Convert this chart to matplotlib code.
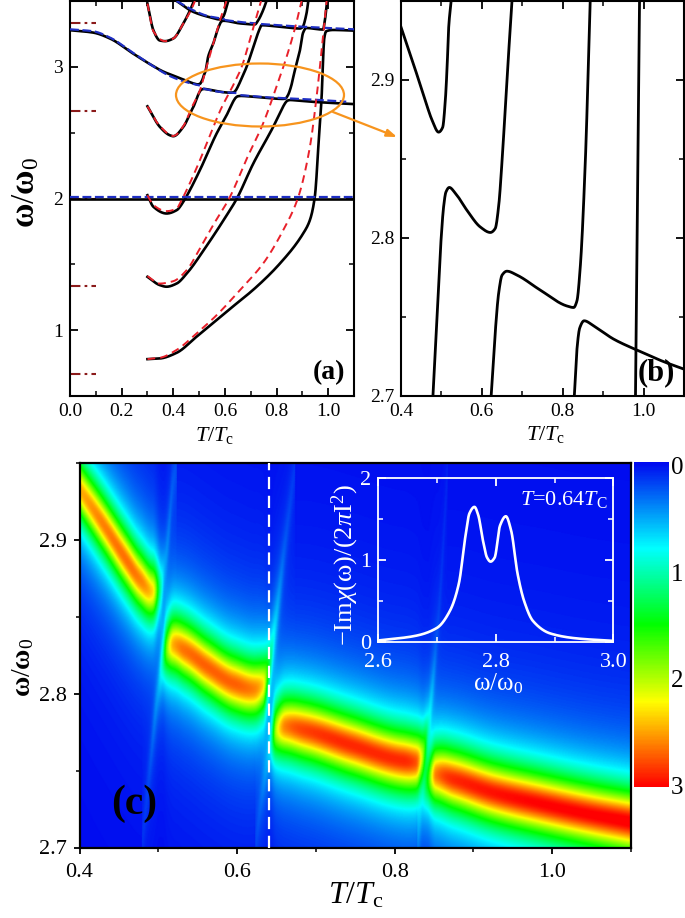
import numpy as np
import matplotlib
matplotlib.use("Agg")
import matplotlib.pyplot as plt
from matplotlib.colors import LinearSegmentedColormap
from matplotlib.patches import Ellipse
from matplotlib.ticker import MultipleLocator, FixedLocator

plt.rcParams.update({
    "font.family": ["Liberation Serif", "DejaVu Serif"],
    "mathtext.fontset": "custom",
    "mathtext.rm": "Liberation Serif",
    "mathtext.it": "Liberation Serif:italic",
    "mathtext.bf": "Liberation Serif:bold",
})

W, H = 685, 918

# ---------- panel (a): black curves (T/Tc, omega/omega0) ----------
a_A_t = [.30,.348,.413,.49,.606,.723,.813,.903,.929,.948,.965,.974,.985,.992,1.02,1.10]
a_A_w = [.78,.785,.828,.95,1.14,1.33,1.506,1.734,1.835,2.01,2.49,2.75,3.22,3.27,3.28,3.275]
a_B_t = [.30,.348,.374,.413,.452,.529,.606,.645,.71,.787,.826,.835,.842,.853,.876,.926,.984,1.05,1.10]
a_B_w = [1.405,1.342,1.33,1.354,1.43,1.64,1.87,1.995,2.266,2.544,2.70,2.729,2.743,2.748,2.7445,2.736,2.729,2.722,2.717]
a_C_t = [.30,.323,.374,.413,.439,.458,.503,.568,.606,.623,.633,.6415,.65,.662,.687,.7446,.81,.827,.835,.8435,.856,.868,.89,.903,.915,.98,.987,.996]
a_C_w = [2.025,1.937,1.886,1.911,1.975,2.04,2.215,2.494,2.63,2.70,2.74,2.765,2.7765,2.779,2.7765,2.767,2.757,2.756,2.76,2.782,2.849,2.95,3.12,3.26,3.295,3.283,3.35,3.5]
a_D_t = [.30,.348,.387,.40,.439,.471,.479,.489,.499,.5055,.511,.5195,.534,.563,.596,.621,.633,.6415,.65,.662,.684,.723,.735,.742,.813,.89,.90,.916,.923]
a_D_w = [2.70,2.544,2.48,2.473,2.544,2.67,2.70,2.75,2.7986,2.82,2.829,2.832,2.8285,2.8176,2.807,2.8035,2.806,2.82,2.849,2.90,3.0,3.228,3.29,3.316,3.304,3.291,3.30,3.405,3.5]
a_E_t = [0,.09,.155,.245,.31,.36,.40,.431,.46,.477,.493,.503,.509,.514,.518,.524,.535,.555,.575,.587,.594,.658,.716,.728,.748,.761]
a_E_w = [3.278,3.26,3.215,3.10,3.02,2.965,2.9335,2.91,2.887,2.8745,2.867,2.87,2.887,2.908,2.9335,2.96,3.076,3.177,3.30,3.345,3.35,3.33,3.322,3.35,3.43,3.5]
a_F_t = [.30,.323,.348,.368,.40,.439,.465,.48]
a_F_w = [3.48,3.278,3.20,3.195,3.215,3.33,3.43,3.5]
a_G_t = [.413,.477,.535,.581,.593,.613]
a_G_w = [3.5,3.418,3.38,3.36,3.38,3.5]
a_H_t = [0,.1,.5,1.1]
a_H_w = [2.0,2.0,2.0,2.0]

# ---------- panel (a): red dashed curves ----------
r_A_t = [.30,.348,.413,.49,.568,.658,.748,.826,.884,.929,.955,.981,.994]
r_A_w = [.78,.79,.85,.975,1.114,1.304,1.506,1.76,2.01,2.39,2.77,3.25,3.5]
r_B_t = [.30,.348,.40,.452,.503,.555,.619,.684,.748,.80,.839,.871,.897]
r_B_w = [1.41,1.354,1.372,1.456,1.62,1.80,2.01,2.30,2.57,2.85,3.076,3.29,3.5]
r_C_t = [.30,.323,.374,.413,.432,.458,.503,.555,.587,.632,.665,.703,.74]
r_C_w = [2.025,1.95,1.904,1.924,1.987,2.09,2.29,2.544,2.69,2.86,3.0,3.25,3.5]
r_D_t = [.30,.348,.40,.439,.471,.503,.529,.555,.581,.606]
r_D_w = [2.70,2.55,2.475,2.55,2.69,2.82,3.0,3.177,3.354,3.5]
r_F_t = [.30,.323,.368,.40,.439,.471,.484]
r_F_w = [3.48,3.27,3.195,3.215,3.33,3.44,3.5]

# ---------- panel (a): blue dashed curves ----------
b_E_t = [0,.09,.155,.245,.31,.387,.44,.503]
b_E_w = [3.285,3.27,3.222,3.105,3.02,2.93,2.89,2.858]
b_M_t = [.515,.58,.65]
b_M_w = [2.835,2.81,2.80]
b_N_t = [.66,.75,.85,.95,1.07]
b_N_w = [2.785,2.77,2.76,2.75,2.735]
b_T_t = [.413,.477,.535,.59,.6]
b_T_w = [3.5,3.43,3.385,3.365,3.36]
b_U_t = [.60,.66,.72]
b_U_w = [3.355,3.34,3.33]
b_V_t = [.74,.85,.95,1.10]
b_V_w = [3.325,3.31,3.30,3.285]
b_H_t = [0,.5,1.1]
b_H_w = [2.012,2.012,2.012]

# brown dash-dot markers at low T
level_w = [0.667, 1.333, 2.0, 2.667, 3.333]
level_t = [0.0, 0.1]

# ---------- panel (b) branches, with the peak intensity ----------
br1_t = [.40,.431,.46,.477,.493,.503,.5096,.514,.518,.524]
br1_w = [2.9335,2.910,2.887,2.8745,2.867,2.870,2.887,2.908,2.9335,2.95]
br1_p = [2.45,2.6,2.65,2.6,2.3,1.0,.35,.25,.2,.17]
br2_t = [.479,.489,.499,.5055,.511,.5195,.534,.563,.596,.621,.633,.6415,.65,.662,.6745]
br2_w = [2.70,2.75,2.7986,2.82,2.829,2.832,2.8285,2.8176,2.807,2.8035,2.806,2.82,2.849,2.90,2.95]
br2_p = [.10,.17,.38,.9,1.8,2.45,2.65,2.7,2.7,2.6,2.3,1.2,.5,.2,.12]
br3_t = [.623,.633,.6415,.65,.662,.687,.7446,.81,.827,.835,.8435,.856,.868]
br3_w = [2.70,2.74,2.765,2.7765,2.779,2.7765,2.767,2.757,2.756,2.76,2.782,2.849,2.95]
br3_p = [.10,.22,.6,2.0,2.6,2.8,2.88,2.88,2.75,2.0,.6,.12,.07]
br4_t = [.8287,.835,.842,.853,.876,.926,.984,1.05,1.10]
br4_w = [2.70,2.729,2.743,2.7476,2.7445,2.736,2.729,2.7217,2.717]
br4_p = [.1,.25,1.3,2.6,2.88,2.95,3.0,3.02,3.05]
br5_t = [.98,.984,.99]
br5_w = [2.70,2.803,2.95]
line_halfwidth = 0.0195

# ---------- inset spectrum at T = 0.64 Tc ----------
ins_w = [2.60,2.662,2.70,2.722,2.737,2.748,2.755,2.7636,2.77,2.778,2.785,2.791,2.798,2.807,2.817,2.826,2.837,2.848,2.863,2.893,2.938,3.0]
ins_v = [.015,.07,.17,.38,.71,1.28,1.57,1.65,1.55,1.24,1.03,.98,1.03,1.42,1.535,1.36,.83,.5,.255,.10,.04,.01]

# colour scale
cmap_pos = [0, .265, .50, .738, 1]
cmap_col = ["#0008f0", "#00ffff", "#00ff00", "#ffff00", "#ff0000"]
cbar_labels = ["0", "1", "2", "3"]

fig = plt.figure(figsize=(W / 100, H / 100), dpi=100)


def pchip(x, y, xi):
    x, y = np.asarray(x, float), np.asarray(y, float)
    h = np.diff(x)
    s = np.diff(y) / h
    d = np.zeros_like(y)
    for k in range(1, len(x) - 1):
        if s[k - 1] * s[k] > 0:
            w1, w2 = 2 * h[k] + h[k - 1], h[k] + 2 * h[k - 1]
            d[k] = (w1 + w2) / (w1 / s[k - 1] + w2 / s[k])
    d[0], d[-1] = s[0], s[-1]
    i = np.clip(np.searchsorted(x, xi) - 1, 0, len(h) - 1)
    u = (xi - x[i]) / h[i]
    return (y[i] * (1 + 2 * u) * (1 - u) ** 2 + h[i] * d[i] * u * (1 - u) ** 2
            + y[i + 1] * u ** 2 * (3 - 2 * u) + h[i] * d[i + 1] * u ** 2 * (u - 1))


def curve(ax, t, w, **kw):
    tt = np.linspace(t[0], t[-1], 700)
    return ax.plot(tt, pchip(t, w, tt), **kw)


def axpx(l, t, r, b):
    return fig.add_axes([l / W, 1 - b / H, (r - l) / W, (b - t) / H])


def style(ax, fs, direction="in", both=True, lw=1.5, major=6, minor=3.5):
    for s in ax.spines.values():
        s.set_linewidth(lw)
    ax.tick_params(which="major", direction=direction, length=major, width=1.3,
                   labelsize=fs, top=both, right=both, pad=5)
    ax.tick_params(which="minor", direction=direction, length=minor, width=1.1,
                   top=both, right=both)


TL = r"$\mathit{T}/\mathit{T}_{\mathrm{c}}$"
OL = r"$\mathrm{\omega}/\mathrm{\omega}_{0}$"

# ===== (a) =====
axa = axpx(70, 1, 354, 396)
axa.set_xlim(0, 1.1)
axa.set_ylim(0.5, 3.5)
for w in level_w:
    axa.plot(level_t, [w, w], color="#8b1a1a", lw=1.5, ls=(0, (5, 2, 1.3, 2)), zorder=2)
for t, w in [(a_H_t, a_H_w), (a_A_t, a_A_w), (a_B_t, a_B_w), (a_C_t, a_C_w),
             (a_D_t, a_D_w), (a_E_t, a_E_w), (a_F_t, a_F_w), (a_G_t, a_G_w)]:
    curve(axa, t, w, color="black", lw=1.9, zorder=3, solid_joinstyle="round")
for t, w in [(b_E_t, b_E_w), (b_M_t, b_M_w), (b_N_t, b_N_w), (b_T_t, b_T_w),
             (b_U_t, b_U_w), (b_V_t, b_V_w), (b_H_t, b_H_w)]:
    curve(axa, t, w, color="#1f2fc4", lw=1.6, ls=(0, (4, 1.6)), zorder=4)
for t, w in [(r_A_t, r_A_w), (r_B_t, r_B_w), (r_C_t, r_C_w), (r_D_t, r_D_w), (r_F_t, r_F_w)]:
    curve(axa, t, w, color="#e8202a", lw=1.4, ls=(0, (4, 2.6)), zorder=5)
axa.xaxis.set_major_locator(MultipleLocator(0.2))
axa.xaxis.set_minor_locator(MultipleLocator(0.1))
axa.yaxis.set_major_locator(MultipleLocator(1))
axa.yaxis.set_minor_locator(MultipleLocator(0.5))
style(axa, 14)
fig.text(215 / W, 1 - 441 / H, TL, fontsize=16, ha="center", va="baseline")
fig.text(26 / W, 1 - 192 / H, r"$\mathbf{\omega}/\mathbf{\omega}_{0}$", fontsize=24,
         rotation=90, ha="center", va="center")
axa.text(0.968, 0.058, "(a)", transform=axa.transAxes, fontsize=20,
         fontweight="bold", ha="right", va="center", zorder=6)

# ===== (b) =====
axb = axpx(401, 1, 684, 396)
axb.set_xlim(0.4, 1.1)
axb.set_ylim(2.7, 2.95)
for t, w in [(br1_t, br1_w), (br2_t, br2_w), (br3_t, br3_w), (br4_t, br4_w), (br5_t, br5_w)]:
    curve(axb, t, w, color="black", lw=2.0, solid_joinstyle="round")
axb.xaxis.set_major_locator(MultipleLocator(0.2))
axb.xaxis.set_minor_locator(MultipleLocator(0.1))
axb.yaxis.set_major_locator(MultipleLocator(0.1))
axb.yaxis.set_minor_locator(MultipleLocator(0.05))
style(axb, 14)
fig.text(546 / W, 1 - 440 / H, TL, fontsize=16, ha="center", va="baseline")
axb.text(0.968, 0.058, "(b)", transform=axb.transAxes, fontsize=22,
         fontweight="bold", ha="right", va="center")

# ===== (c) =====
axc = axpx(79.5, 462.7, 631, 847.5)
T = np.linspace(0.4, 1.1, 1100)
Om = np.linspace(2.7, 2.95, 620)
Z = np.zeros((Om.size, T.size))
for t, w, p in [(br1_t, br1_w, br1_p), (br2_t, br2_w, br2_p),
                (br3_t, br3_w, br3_p), (br4_t, br4_w, br4_p)]:
    mask = (T >= t[0]) & (T <= t[-1])
    cen = pchip(t, w, T[mask])
    pk = pchip(t, p, T[mask])
    Z[:, mask] += pk / (1 + ((Om[:, None] - cen) / line_halfwidth) ** 2)

cmap = LinearSegmentedColormap.from_list("c", list(zip(cmap_pos, cmap_col)))
mesh = axc.pcolormesh(T, Om, Z, cmap=cmap, vmin=0, vmax=3, shading="gouraud", rasterized=True)
axc.axvline(0.64, color="white", lw=1.6, ls=(0, (5.5, 3)), zorder=3)
axc.set_xlim(0.4, 1.1)
axc.set_ylim(2.7, 2.95)
axc.xaxis.set_major_locator(MultipleLocator(0.2))
axc.xaxis.set_minor_locator(MultipleLocator(0.1))
axc.yaxis.set_major_locator(MultipleLocator(0.1))
axc.yaxis.set_minor_locator(MultipleLocator(0.05))
style(axc, 16, direction="out", both=False, lw=1.6, major=4, minor=3)
axc.tick_params(axis="x", which="major", pad=7)
fig.text(356 / W, 1 - 903 / H, TL, fontsize=23, ha="center", va="baseline")
fig.text(23 / W, 1 - 667 / H, r"$\mathbf{\omega}/\mathbf{\omega}_{0}$", fontsize=20,
         rotation=90, ha="center", va="center")
axc.text(0.099, 0.113, "(c)", transform=axc.transAxes, fontsize=30,
         fontweight="bold", ha="center", va="center")

# colour bar
cax = axpx(634, 462, 669, 787)
cb = fig.colorbar(mesh, cax=cax)
cb.ax.invert_yaxis()
cb.set_ticks([])
cb.outline.set_visible(False)
for lab, y in zip(cbar_labels, [468, 575, 681, 788]):
    fig.text(671 / W, 1 - y / H, lab, fontsize=18, ha="left", va="center", color="black")

# inset
axi = axpx(378.3, 478.3, 613.4, 641.7)
axi.patch.set_alpha(0)
tt = np.linspace(ins_w[0], ins_w[-1], 700)
axi.plot(tt, pchip(ins_w, ins_v, tt), color="white", lw=1.9, solid_joinstyle="round")
axi.set_xlim(2.6, 3.0)
axi.set_ylim(0, 2)
axi.xaxis.set_major_locator(FixedLocator([2.6, 2.8, 3.0]))
axi.xaxis.set_minor_locator(MultipleLocator(0.1))
axi.yaxis.set_major_locator(FixedLocator([0, 1, 2]))
axi.yaxis.set_minor_locator(MultipleLocator(0.5))
style(axi, 16, lw=1.3)
axi.tick_params(which="both", color="white", labelcolor="white")
axi.tick_params(axis="x", which="major", pad=8)
for s in axi.spines.values():
    s.set_color("white")
fig.text(345 / W, 1 - 565 / H, r"$-\mathrm{Im}\chi(\mathrm{\omega})/(2\pi\mathrm{I}^{2})$",
         fontsize=19, color="white", rotation=90, ha="center", va="center")
fig.text(498 / W, 1 - 690 / H, OL, fontsize=18, color="white", ha="center", va="baseline")
fig.text(564 / W, 1 - 505 / H, r"$\mathit{T}$=0.64$\mathit{T}_{\mathrm{C}}$",
         fontsize=16, color="white", ha="center", va="baseline")

# overlay: ellipse and arrow, in pixel coordinates
ov = fig.add_axes([0, 0, 1, 1], zorder=20)
ov.set_xlim(0, W)
ov.set_ylim(H, 0)
ov.axis("off")
orange = "#f7941d"
ov.add_patch(Ellipse((260, 95), 168, 63, fill=False, ec=orange, lw=1.6))
ov.annotate("", xy=(397, 137), xytext=(333, 112),
            arrowprops=dict(arrowstyle="-|>,head_length=0.6,head_width=0.22", color=orange,
                            lw=1.6, shrinkA=0, shrinkB=0))

fig.savefig("out.png", dpi=100)
